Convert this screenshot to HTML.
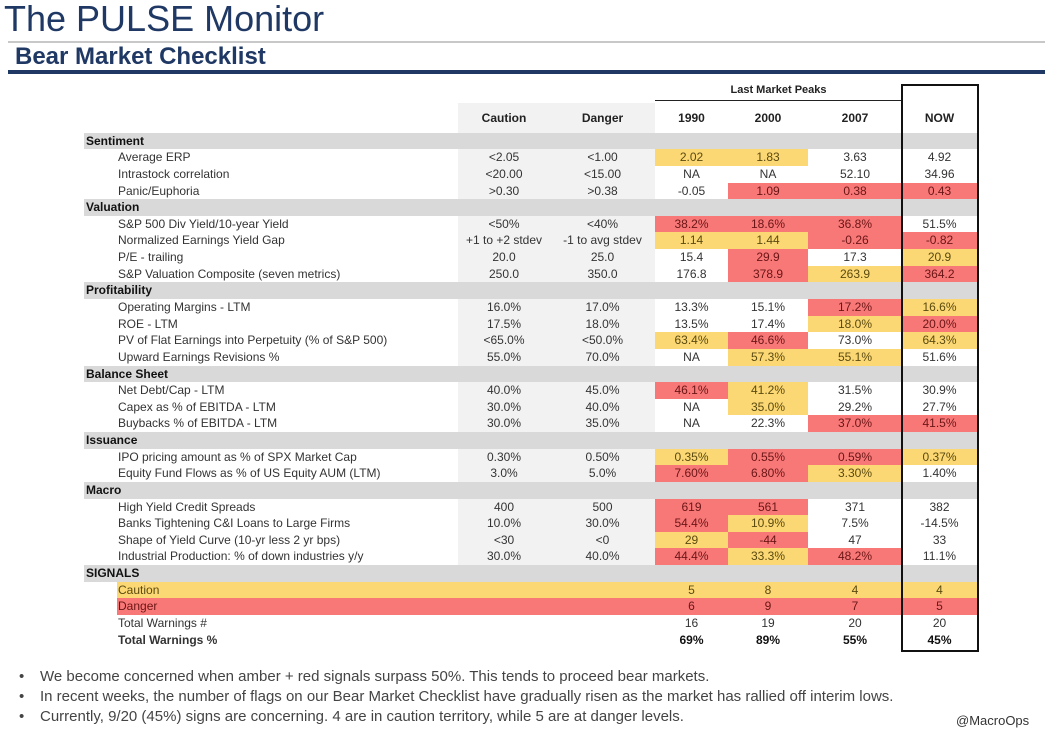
<!DOCTYPE html>
<html><head><meta charset="utf-8">
<style>
body{margin:0;width:1045px;height:741px;background:#fff;position:relative;overflow:hidden;font-family:"Liberation Sans",Arial,sans-serif;}
.a{position:absolute;}
.c{position:absolute;text-align:center;font-size:12px;color:#333;line-height:16.6px;}
.l{position:absolute;font-size:12px;color:#333;line-height:16.6px;white-space:nowrap;}
.sec{position:absolute;left:84px;width:893px;background:#d9d9d9;font-weight:bold;font-size:12px;color:#111;line-height:16.6px;padding-left:2px;box-sizing:border-box;}
.y{background:#fcd874;color:#5a4a10;}
.r{background:#f87878;color:#6a1515;}
.b{position:absolute;font-size:15px;color:#444;white-space:nowrap;}
.bd{position:absolute;font-size:15px;color:#444;left:19px;}
</style></head><body>
<div class="a" style="left:4px;top:-2px;font-size:36px;color:#1f3864;">The PULSE Monitor</div>
<div class="a" style="left:8px;top:41px;width:1037px;height:2px;background:#c8c8c8;"></div>
<div class="a" style="left:15px;top:43px;font-size:24px;font-weight:bold;color:#1f3864;">Bear Market Checklist</div>
<div class="a" style="left:8px;top:70px;width:1037px;height:4px;background:#1f3864;"></div>

<div class="a" style="left:458px;top:103px;width:197px;height:30px;background:#f2f2f2;"></div>
<div class="a" style="left:655px;top:84px;width:247px;text-align:center;font-size:11px;font-weight:bold;color:#222;">Last Market Peaks</div>
<div class="a" style="left:655px;top:100px;width:247px;height:1px;background:#222;"></div>
<div id="tbl"></div>
<div class="a" style="left:901px;top:84px;width:74px;height:564px;border:2px solid #111;"></div>

<div class="bd" style="top:668px;">•</div>
<div class="b" style="left:40px;top:668px;">We become concerned when amber + red signals surpass 50%. This tends to proceed bear markets.</div>
<div class="bd" style="top:688px;">•</div>
<div class="b" style="left:40px;top:688px;">In recent weeks, the number of flags on our Bear Market Checklist have gradually risen as the market has rallied off interim lows.</div>
<div class="bd" style="top:708px;">•</div>
<div class="b" style="left:40px;top:708px;">Currently, 9/20 (45%) signs are concerning. 4 are in caution territory, while 5 are at danger levels.</div>
<div class="a" style="left:956px;top:713px;font-size:13px;color:#333;">@MacroOps</div>

<script>
const colHeaders=["Caution","Danger","1990","2000","2007","NOW"];
const rowLabels=["Sentiment","Average ERP","Intrastock correlation","Panic/Euphoria","Valuation","S&P 500 Div Yield/10-year Yield","Normalized Earnings Yield Gap","P/E - trailing","S&P Valuation Composite (seven metrics)","Profitability","Operating Margins - LTM","ROE - LTM","PV of Flat Earnings into Perpetuity (% of S&P 500)","Upward Earnings Revisions %","Balance Sheet","Net Debt/Cap - LTM","Capex as % of EBITDA - LTM","Buybacks % of EBITDA - LTM","Issuance","IPO pricing amount as % of SPX Market Cap","Equity Fund Flows as % of US Equity AUM (LTM)","Macro","High Yield Credit Spreads","Banks Tightening C&I Loans to Large Firms","Shape of Yield Curve (10-yr less 2 yr bps)","Industrial Production: % of down industries y/y","SIGNALS","Caution","Danger","Total Warnings #","Total Warnings %"];
const cautionVals=["","<2.05","<20.00",">0.30","","<50%","+1 to +2 stdev","20.0","250.0","","16.0%","17.5%","<65.0%","55.0%","","40.0%","30.0%","30.0%","","0.30%","3.0%","","400","10.0%","<30","30.0%","","","","",""];
const dangerVals=["","<1.00","<15.00",">0.38","","<40%","-1 to avg stdev","25.0","350.0","","17.0%","18.0%","<50.0%","70.0%","","45.0%","40.0%","35.0%","","0.50%","5.0%","","500","30.0%","<0","40.0%","","","","",""];
const v1990=["","2.02","NA","-0.05","","38.2%","1.14","15.4","176.8","","13.3%","13.5%","63.4%","NA","","46.1%","NA","NA","","0.35%","7.60%","","619","54.4%","29","44.4%","","5","6","16","69%"];
const v2000=["","1.83","NA","1.09","","18.6%","1.44","29.9","378.9","","15.1%","17.4%","46.6%","57.3%","","41.2%","35.0%","22.3%","","0.55%","6.80%","","561","10.9%","-44","33.3%","","8","9","19","89%"];
const v2007=["","3.63","52.10","0.38","","36.8%","-0.26","17.3","263.9","","17.2%","18.0%","73.0%","55.1%","","31.5%","29.2%","37.0%","","0.59%","3.30%","","371","7.5%","47","48.2%","","4","7","20","55%"];
const vNow=["","4.92","34.96","0.43","","51.5%","-0.82","20.9","364.2","","16.6%","20.0%","64.3%","51.6%","","30.9%","27.7%","41.5%","","0.37%","1.40%","","382","-14.5%","33","11.1%","","4","5","20","45%"];
const flag1990=["","y","","","","r","y","","","","","","y","","","r","","","","y","r","","r","r","y","r","","","","",""];
const flag2000=["","y","","r","","r","y","r","r","","","","r","y","","y","y","","","r","r","","r","y","r","y","","","","",""];
const flag2007=["","","","r","","r","r","","y","","r","y","","y","","","","r","","r","y","","","","","r","","","","",""];
const flagNow=["","","","r","","","r","y","r","","y","r","y","","","","","r","","y","","","","","","","","","","",""];
const sectionRows=[0,4,9,14,18,21,26];

const tbl=document.getElementById('tbl');
const colX=[458,550,655,728,808,902,977];
const top0=132.7, pitch=16.63;
function yOf(i){return top0+i*pitch;}
function mk(cls,x,y,w,txt){const d=document.createElement('div');d.className=cls;d.style.left=x+'px';d.style.top=y+'px';if(w)d.style.width=w+'px';d.style.height=pitch+'px';d.textContent=txt;tbl.appendChild(d);return d;}
colHeaders.forEach((h,j)=>{const d=mk('c',colX[j],110,colX[j+1]-colX[j],h);


d.style.fontWeight='bold';d.style.color='#222';});
const bg=document.createElement('div');bg.className='a';bg.style.cssText='left:458px;width:197px;background:#f2f2f2;top:'+yOf(0)+'px;height:'+(yOf(26)-yOf(0))+'px';


tbl.appendChild(bg);
const cols=[cautionVals,dangerVals,v1990,v2000,v2007,vNow];
const flags=[null,null,flag1990,flag2000,flag2007,flagNow];
rowLabels.forEach((lab,i)=>{
  const y=yOf(i);
  if(sectionRows.includes(i)){
    const d=mk('sec',0,y,0,lab);d.style.left='84px';
    
    
    return;
  }
  if(i===27||i===28){
    const s=mk('a '+(i===27?'y':'r'),117,y,860,'');
    
    
  }
  const L=mk('l',118,y,0,lab);
  
  
  if(i===30)L.style.fontWeight='bold';
  if(i===27)L.style.color='#5a4a10';
  if(i===28)L.style.color='#6a1515';
  cols.forEach((arr,j)=>{
    const f=flags[j]?flags[j][i]:'';
    const d=mk('c'+(f?' '+f:''),colX[j],y,colX[j+1]-colX[j],arr[i]);
    
    
    if(i===30){d.style.fontWeight='bold';d.style.color='#111';}
    if(i===27)d.style.color='#5a4a10';
    if(i===28)d.style.color='#6a1515';
  });
});
</script>
</body></html>
